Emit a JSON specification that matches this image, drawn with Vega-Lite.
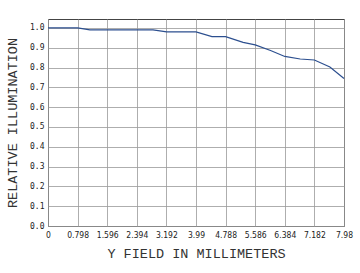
{
  "$schema": "https://vega.github.io/schema/vega-lite/v6.json",
  "width": 296,
  "height": 207,
  "autosize": {"type": "none"},
  "padding": {"left": 48, "top": 19, "right": 16, "bottom": 47},
  "background": "white",
  "config": {
    "view": {"stroke": "#444", "strokeWidth": 1},
    "font": "Liberation Mono"
  },
  "data": {
    "values": [
      {"x": 0, "y": 1.0},
      {"x": 0.798, "y": 1.0},
      {"x": 1.13, "y": 0.99},
      {"x": 2.83, "y": 0.99},
      {"x": 3.2, "y": 0.98},
      {"x": 3.99, "y": 0.98},
      {"x": 4.42, "y": 0.956},
      {"x": 4.788, "y": 0.956},
      {"x": 5.26, "y": 0.927},
      {"x": 5.586, "y": 0.914},
      {"x": 6.0, "y": 0.886},
      {"x": 6.384, "y": 0.856},
      {"x": 6.8, "y": 0.843},
      {"x": 7.182, "y": 0.838},
      {"x": 7.6, "y": 0.803},
      {"x": 7.98, "y": 0.745}
    ]
  },
  "mark": {"type": "line", "color": "#2c4f8f", "strokeWidth": 1.2, "interpolate": "linear"},
  "encoding": {
    "x": {
      "field": "x",
      "type": "quantitative",
      "scale": {"domain": [0, 7.98], "nice": false, "zero": false},
      "axis": {
        "values": [0, 0.798, 1.596, 2.394, 3.192, 3.99, 4.788, 5.586, 6.384, 7.182, 7.98],
        "labelExpr": "'' + datum.value",
        "title": "Y FIELD IN MILLIMETERS",
        "titleFont": "Liberation Mono",
        "titleFontSize": 13.5,
        "titleFontWeight": "normal",
        "titleColor": "#333",
        "titlePadding": 8,
        "labelFont": "DejaVu Sans Condensed",
        "labelFontSize": 8.5,
        "labelColor": "#222",
        "labelPadding": 4,
        "labelOverlap": false,
        "labelFlush": false,
        "ticks": false,
        "domain": false,
        "gridColor": "#999",
        "gridOpacity": 1,
        "gridWidth": 0.8
      }
    },
    "y": {
      "field": "y",
      "type": "quantitative",
      "scale": {"domain": [0, 1.045], "nice": false, "zero": true},
      "axis": {
        "values": [0, 0.1, 0.2, 0.3, 0.4, 0.5, 0.6, 0.7, 0.8, 0.9, 1.0],
        "format": ".1f",
        "title": "RELATIVE ILLUMINATION",
        "titleFont": "Liberation Mono",
        "titleFontSize": 13.5,
        "titleFontWeight": "normal",
        "titleColor": "#333",
        "titlePadding": 10,
        "labelFont": "DejaVu Sans Mono",
        "labelFontSize": 8,
        "labelColor": "#222",
        "labelPadding": 4,
        "labelOverlap": false,
        "ticks": false,
        "domain": false,
        "gridColor": "#999",
        "gridOpacity": 1,
        "gridWidth": 0.8
      }
    }
  }
}
